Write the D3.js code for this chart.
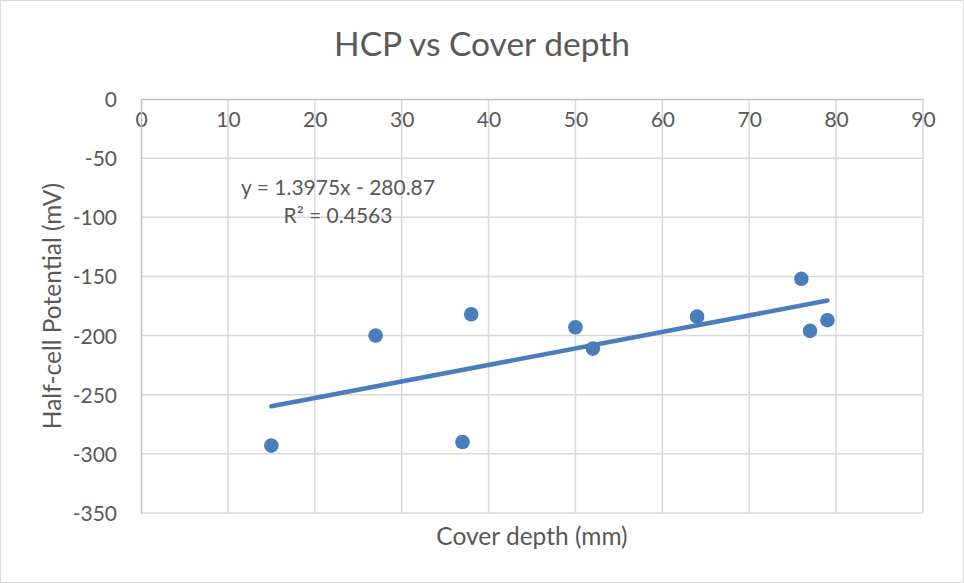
<!DOCTYPE html>
<html>
<head>
<meta charset="utf-8">
<script src="https://cdn.jsdelivr.net/npm/d3@7"></script>
<style>
  body { margin: 0; background: #fff; }
  text { font-family: Lato, "Open Sans", sans-serif; fill: #595959; }
</style>
</head>
<body>
<svg width="964" height="583"></svg>
<script>
// values
const coverDepth = [15, 27, 37, 38, 50, 52, 64, 76, 77, 79];
const halfCell = [-293, -200, -290, -182, -193, -211, -184, -152, -196, -187];
const xTicks = [0, 10, 20, 30, 40, 50, 60, 70, 80, 90];
const yTicks = [0, -50, -100, -150, -200, -250, -300, -350];
const equationLines = ['y = 1.3975x - 280.87', 'R² = 0.4563'];

const svg = d3.select('svg');
const width = +svg.attr('width');
const height = +svg.attr('height');
const blue = '#4a7ebb';

const x = d3.scaleLinear().domain([0, 90]).range([141, 923]);
const y = d3.scaleLinear().domain([0, -350]).range([99, 513]);

// outer chart border
svg.append('rect')
  .attr('x', 0.5).attr('y', 0.5)
  .attr('width', width - 1).attr('height', height - 1)
  .attr('fill', '#fff')
  .attr('stroke', '#d9d9d9');

// gridlines
svg.append('g')
  .selectAll('line')
  .data(xTicks.filter((d) => d !== 0))
  .join('line')
  .attr('x1', (d) => x(d)).attr('x2', (d) => x(d))
  .attr('y1', y(0)).attr('y2', y(-350))
  .attr('stroke', '#d9d9d9').attr('stroke-width', 1.5);

svg.append('g')
  .selectAll('line')
  .data(yTicks.filter((d) => d !== 0))
  .join('line')
  .attr('x1', x(0)).attr('x2', x(90))
  .attr('y1', (d) => y(d)).attr('y2', (d) => y(d))
  .attr('stroke', '#d9d9d9').attr('stroke-width', 1.5);

// axes (x axis sits at y = 0, at the top); plain hyphen minus like Excel
const fmt = (d) => String(d);
const xAxis = svg.append('g')
  .attr('transform', `translate(0,${y(0)})`)
  .call(d3.axisBottom(x).tickValues(xTicks).tickFormat(fmt).tickSize(0).tickPadding(13));
const yAxis = svg.append('g')
  .attr('transform', `translate(${x(0)},0)`)
  .call(d3.axisLeft(y).tickValues(yTicks).tickFormat(fmt).tickSize(0).tickPadding(24));

[xAxis, yAxis].forEach((g) => {
  g.select('.domain').attr('stroke', '#bfbfbf').attr('stroke-width', 1.5);
  g.selectAll('text')
    .attr('font-size', 21)
    .attr('fill', '#595959')
    .style('font-family', 'Lato, sans-serif');
});
yAxis.selectAll('text').attr('dy', '0.36em');

// least-squares trendline
const mx = d3.mean(coverDepth);
const my = d3.mean(halfCell);
const slope = d3.sum(coverDepth, (d, i) => (d - mx) * (halfCell[i] - my)) /
  d3.sum(coverDepth, (d) => (d - mx) ** 2);
const intercept = my - slope * mx;
const [x0, x1] = d3.extent(coverDepth);

svg.append('line')
  .attr('x1', x(x0)).attr('y1', y(slope * x0 + intercept))
  .attr('x2', x(x1)).attr('y2', y(slope * x1 + intercept))
  .attr('stroke', blue)
  .attr('stroke-width', 4.5)
  .attr('stroke-linecap', 'round');

// points
svg.append('g')
  .selectAll('circle')
  .data(coverDepth)
  .join('circle')
  .attr('cx', (d) => x(d))
  .attr('cy', (d, i) => y(halfCell[i]))
  .attr('r', 7.3)
  .attr('fill', blue);

// trendline equation
svg.append('text')
  .attr('x', 338).attr('y', 195)
  .attr('text-anchor', 'middle')
  .attr('font-size', 21)
  .selectAll('tspan')
  .data(equationLines)
  .join('tspan')
  .attr('x', 338)
  .attr('dy', (d, i) => (i ? 28 : 0))
  .text((d) => d);

// titles
svg.append('text')
  .attr('x', 482).attr('y', 56)
  .attr('text-anchor', 'middle')
  .attr('font-size', 33.5)
  .text('HCP vs Cover depth');

svg.append('text')
  .attr('x', 532).attr('y', 545)
  .attr('text-anchor', 'middle')
  .attr('font-size', 24.5)
  .text('Cover depth (mm)');

svg.append('text')
  .attr('transform', 'translate(61,306) rotate(-90)')
  .attr('text-anchor', 'middle')
  .attr('font-size', 24.5)
  .text('Half-cell Potential (mV)');
</script>
</body>
</html>
